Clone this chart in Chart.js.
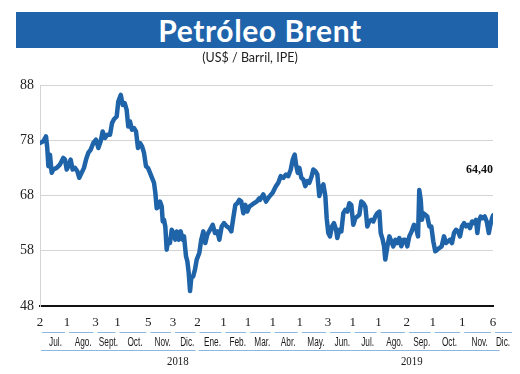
<!DOCTYPE html>
<html>
<head>
<meta charset="utf-8">
<script src="https://cdn.jsdelivr.net/npm/chart.js@4.4.1/dist/chart.umd.min.js"></script>
<style>
  html, body { margin: 0; padding: 0; background: #ffffff; }
  #wrap { position: relative; width: 520px; height: 374px; overflow: hidden; }
  #chart { position: absolute; left: 0; top: 0; }
  #banner { position: absolute; left: 16px; top: 12px; width: 482px; height: 36px; background: #1f64ab;
            color: #fff; font-family: Lato, "Open Sans", sans-serif; font-weight: 700; font-size: 30px;
            line-height: 36px; text-align: center; box-sizing: border-box; padding-left: 6px; letter-spacing: 0.6px; }
  #sub { position: absolute; left: 0; top: 50px; width: 500px; text-align: center;
         font-family: Lato, "Open Sans", sans-serif; font-size: 12.5px; color: #222; }
</style>
</head>
<body>
<div id="wrap">
  <canvas id="chart" width="520" height="374"></canvas>
  <div id="banner">Petróleo Brent</div>
  <div id="sub">(US$ / Barril, IPE)</div>
</div>
<script>
// Trading-day index (estimated position) and Brent price, US$/barrel
const tradingDay = [0,2.7,4.9,5.9,6.8,8.1,9.5,10.8,13.5,16.2,18.9,20.3,21.7,23.0,24.9,26.5,28.4,30.3,31.9,33.8,35.7,37.4,39.2,41.2,43.3,45.5,47.4,49.3,50.9,52.8,54.7,56.9,58.5,60.1,62.3,63.6,65.6,67.2,68.8,70.4,71.7,73.1,74.7,76.4,78.0,79.6,81.2,82.9,84.5,86.1,87.7,89.4,91.0,92.6,93.7,94.8,96.4,97.5,98.9,99.7,100.7,101.8,102.9,104.2,105.6,107.0,108.3,109.9,111.1,112.7,114.3,115.9,117.0,118.6,119.7,120.8,121.9,122.9,124.5,125.9,127.3,129.4,131.0,132.7,134.3,135.9,138.1,140.3,142.2,144.1,145.7,147.6,149.5,151.7,153.8,155.4,157.0,158.7,160.3,161.9,163.5,165.2,166.8,168.4,170.0,172.0,173.8,176.0,178.2,178.7,181.4,183.6,186.3,189.0,191.7,193.6,195.5,197.7,199.9,201.7,203.7,205.3,206.9,208.0,209.4,210.7,212.3,213.9,215.5,217.2,218.8,220.7,222.0,223.7,225.3,226.9,228.5,230.2,231.8,232.9,234.2,235.6,237.2,238.8,240.5,241.5,243.2,244.8,246.4,248.0,249.7,251.3,252.9,254.5,256.2,257.8,259.4,261.0,262.7,264.3,265.9,267.5,269.2,270.8,272.4,274.0,275.7,276.8,278.4,279.5,280.5,282.2,283.8,285.4,287.0,288.7,290.3,291.9,293.5,295.2,296.8,298.4,300.0,301.9,303.8,305.5,307.1,308.1,309.3,310.3,311.4,313.0,314.6,316.3,317.9,319.5,321.1,322.8,324.4,326.3,328.2,329.8,331.5,333.1,334.7,336.3,338.0,339.6,341.2,342.8,344.5,346.1,347.7,349.3,351.0,352.6,354.2,355.3,356.4,358.0,359.7,361.3,362.9,364.6,365.6,367.2,368];
const brent = [77.5,77.8,78.7,76.6,73.3,75.4,72.1,72.7,73.0,73.6,74.8,74.5,72.7,73.3,74.5,72.7,73.0,72.4,71.2,72.1,73.0,74.5,75.7,76.3,77.5,78.1,76.6,77.8,79.6,78.4,79.0,79.0,81.1,81.8,82.3,85.0,86.2,84.4,84.7,83.5,80.5,81.4,79.9,80.2,79.6,76.6,77.5,76.9,75.7,73.3,73.0,72.1,71.2,70.3,68.5,65.7,66.0,66.9,66.0,63.3,63.6,62.4,58.2,60.0,59.4,61.8,61.2,60.0,61.5,60.0,61.5,60.0,60.6,57.0,56.1,54.0,50.7,53.1,53.4,54.6,56.4,57.6,60.0,61.5,59.4,60.9,61.8,62.7,61.2,61.5,60.0,62.4,63.0,62.4,62.1,61.5,63.9,66.3,66.6,67.2,66.9,64.8,66.3,65.1,66.0,66.3,66.6,66.9,67.5,67.2,68.2,66.9,67.8,68.5,69.7,70.3,71.5,71.2,71.8,71.5,72.7,74.5,75.4,73.6,72.1,73.0,71.2,70.9,69.7,70.6,70.3,71.5,72.7,72.4,71.8,67.9,69.4,70.0,67.9,63.9,61.2,60.6,62.4,63.0,61.8,60.3,61.8,61.5,64.8,65.4,65.1,66.6,66.3,62.7,63.9,64.2,64.5,66.9,66.6,66.0,62.4,63.3,63.6,63.3,64.2,64.8,65.1,61.2,60.0,58.8,56.4,58.8,60.6,59.7,58.8,60.0,59.4,60.3,58.8,60.0,60.0,58.8,60.6,61.5,62.7,62.1,60.6,69.0,67.2,63.6,64.8,64.5,64.2,62.4,62.4,59.7,57.9,58.2,58.5,58.8,60.6,59.4,59.7,60.0,59.4,61.2,61.8,61.5,60.6,62.4,63.0,62.4,62.7,62.1,63.3,63.0,63.6,61.2,63.3,64.2,63.9,64.2,63.3,61.2,62.4,63.9,64.40];

// First trading day of each month (index) and its day-of-month label
const monthStartIdx = [0,22,45,63,88,108,128,149,169,189,211,234,254,275,298,319,343,368];
const dayLabels = ['2','1','3','1','5','3','2','1','1','1','1','3','1','1','2','1','1','6'];
const monthLabels = ['Jul.','Ago.','Sept.','Oct.','Nov.','Dic.','Ene.','Feb.','Mar.','Abr.','May.','Jun.','Jul.','Ago.','Sep.','Oct.','Nov.','Dic.'];
const yearLabels = ['2018','2019'];
const yearLabelIdx = [112, 302];
const yearSpans = [[0,128],[128,375]];
const lastLabel = '64,40';

const decor = {
  id: 'decor',
  afterDraw(chart) {
    const c = chart.ctx, xs = chart.scales.x, ys = chart.scales.y;
    const px = v => xs.getPixelForValue(v);
    c.save();
    // month underline segments
    c.strokeStyle = '#8ab8e0'; c.lineWidth = 1;
    for (let i = 0; i < monthLabels.length; i++) {
      const a = px(monthStartIdx[i]) + 2;
      const b = i < monthStartIdx.length - 1 ? px(monthStartIdx[i + 1]) - 2 : px(monthStartIdx[i]) + 19;
      c.beginPath(); c.moveTo(a, 332.5); c.lineTo(b, 332.5); c.stroke();
    }
    // month labels
    c.fillStyle = '#1a1a1a'; c.textAlign = 'center'; c.textBaseline = 'middle';
    c.font = '12.5px "Liberation Sans", Arial, sans-serif';
    for (let i = 0; i < monthLabels.length; i++) {
      const x = i < monthStartIdx.length - 1 ? (px(monthStartIdx[i]) + px(monthStartIdx[i + 1])) / 2 + 2 : px(monthStartIdx[i]) + 10;
      c.save(); c.translate(x, 342.5); c.scale(0.66, 1); c.fillText(monthLabels[i], 0, 0); c.restore();
    }
    // year rules
    for (const [a, b] of yearSpans) {
      c.beginPath(); c.moveTo(px(a) + 1, 350.5); c.lineTo(px(b) - 2, 350.5); c.stroke();
    }
    // year labels
    c.font = '13.5px "Liberation Serif", serif';
    yearLabels.forEach((t, i) => {
      c.save(); c.translate(px(yearLabelIdx[i]), 361); c.scale(0.8, 1); c.fillText(t, 0, 0); c.restore();
    });
    // last value label
    const li = tradingDay.length - 1;
    c.font = 'bold 12px "Liberation Serif", serif';
    c.fillStyle = '#111'; c.textAlign = 'right';
    c.fillText(lastLabel, px(tradingDay[li]), ys.getPixelForValue(brent[li]) - 45);
    c.restore();
  }
};

new Chart(document.getElementById('chart'), {
  type: 'line',
  data: {
    datasets: [{
      data: tradingDay.map((x, i) => ({ x: x, y: brent[i] })),
      borderColor: '#1f63a9', borderWidth: 4.5, pointRadius: 0, tension: 0,
      borderJoinStyle: 'round', borderCapStyle: 'round', fill: false
    }]
  },
  options: {
    responsive: false, animation: false, devicePixelRatio: 1,
    layout: { padding: { left: 0, right: 27, top: 85, bottom: 0 } },
    plugins: { legend: { display: false }, tooltip: { enabled: false }, title: { display: false } },
    scales: {
      x: {
        type: 'linear', min: 0, max: 368,
        grid: { display: false, drawTicks: false },
        border: { display: true, color: '#111', width: 2 },
        afterBuildTicks: s => { s.ticks = monthStartIdx.map(v => ({ value: v })); },
        afterFit: s => { s.height = 68; },
        ticks: {
          autoSkip: false, maxRotation: 0, minRotation: 0, padding: 9, color: '#222',
          font: { family: '"Liberation Serif", serif', size: 13 },
          callback: v => dayLabels[monthStartIdx.indexOf(v)]
        }
      },
      y: {
        min: 48, max: 88,
        grid: { color: '#d4d4d4', lineWidth: 1, drawTicks: false },
        border: { display: true, color: '#d4d4d4' },
        afterFit: s => { s.width = 40; },
        ticks: { stepSize: 10, padding: 6, color: '#222', font: { family: '"Liberation Serif", serif', size: 14 } }
      }
    }
  },
  plugins: [decor]
});
</script>
</body>
</html>
